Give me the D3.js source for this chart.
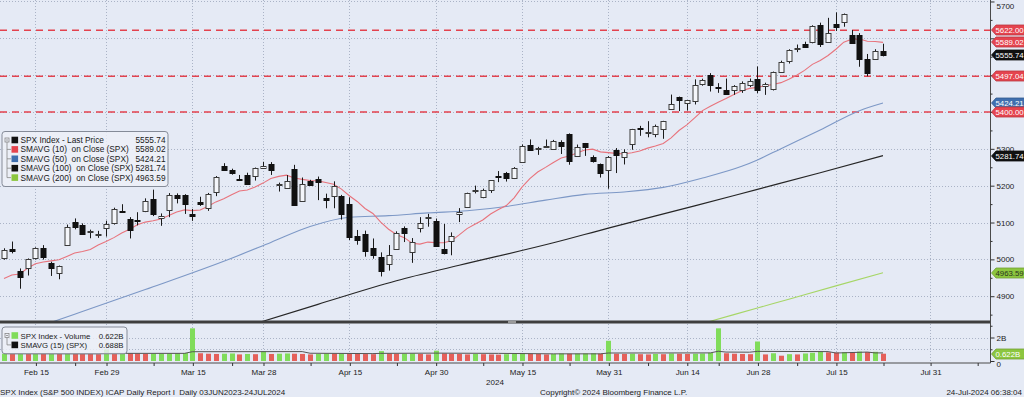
<!DOCTYPE html>
<html><head><meta charset="utf-8">
<script src="https://cdn.jsdelivr.net/npm/d3@7"></script>
<style>
html,body{margin:0;padding:0;background:#e5eaf5;overflow:hidden}
svg{display:block;font-family:"Liberation Sans",Arial,sans-serif}
text{white-space:pre}
</style></head>
<body><svg id="chart" width="1024" height="397"></svg>
<script>
// ---------------- DATA ----------------
const dates = [
 "02-09","02-12","02-13","02-14","02-15","02-16","02-20","02-21","02-22","02-23","02-26","02-27","02-28","02-29",
 "03-01","03-04","03-05","03-06","03-07","03-08","03-11","03-12","03-13","03-14","03-15","03-18","03-19","03-20","03-21","03-22","03-25","03-26","03-27","03-28",
 "04-01","04-02","04-03","04-04","04-05","04-08","04-09","04-10","04-11","04-12","04-15","04-16","04-17","04-18","04-19","04-22","04-23","04-24","04-25","04-26","04-29","04-30",
 "05-01","05-02","05-03","05-06","05-07","05-08","05-09","05-10","05-13","05-14","05-15","05-16","05-17","05-20","05-21","05-22","05-23","05-24","05-28","05-29","05-30","05-31",
 "06-03","06-04","06-05","06-06","06-07","06-10","06-11","06-12","06-13","06-14","06-17","06-18","06-20","06-21","06-24","06-25","06-26","06-27","06-28",
 "07-01","07-02","07-03","07-05","07-08","07-09","07-10","07-11","07-12","07-15","07-16","07-17","07-18","07-19","07-22","07-23"];
const opens = [
 5004.2,5026.8,4967.9,4976.4,5003.1,5031.1,4989.3,4963.0,5038.8,5100.9,5093.0,5074.6,5067.2,5085.4,
 5098.5,5131.0,5110.5,5108.0,5132.4,5164.5,5112.0,5134.3,5173.5,5175.1,5123.3,5154.8,5139.1,5181.7,5253.4,5242.5,5219.5,5228.9,5226.3,5248.0,
 5258.0,5204.3,5194.4,5244.1,5159.0,5211.4,5217.0,5167.9,5173.0,5171.5,5149.7,5064.6,5069.0,5031.5,5005.4,4987.3,5028.9,5084.7,5019.9,5084.9,5114.1,5103.8,
 5029.0,5049.3,5122.8,5142.4,5187.2,5169.0,5189.0,5225.5,5233.1,5221.1,5263.3,5310.1,5303.1,5305.4,5298.7,5319.3,5340.3,5281.5,5315.9,5278.7,5259.8,5243.2,
 5297.2,5278.2,5314.5,5357.8,5343.8,5341.2,5353.0,5409.1,5441.9,5424.1,5431.1,5476.2,5500.0,5466.8,5459.6,5460.7,5460.7,5473.6,5488.5,
 5471.1,5461.8,5507.4,5537.9,5572.8,5584.2,5591.3,5635.2,5590.8,5638.2,5644.1,5610.1,5608.6,5543.4,5544.6,5565.3];
const highs = [
 5030.1,5048.4,4975.3,5002.5,5032.7,5038.7,4993.6,4983.2,5094.4,5111.1,5097.7,5080.7,5077.4,5105.0,
 5140.3,5149.7,5114.6,5128.0,5165.6,5189.3,5124.7,5179.9,5179.1,5176.9,5136.9,5170.0,5180.3,5226.2,5261.1,5246.1,5229.1,5235.2,5249.3,5264.9,
 5264.0,5208.3,5228.8,5256.6,5222.2,5215.9,5224.8,5178.4,5211.8,5175.0,5168.4,5079.8,5078.0,5056.7,5019.0,5038.8,5076.1,5089.5,5057.8,5114.6,5123.5,5110.8,
 5096.1,5073.2,5139.1,5181.0,5200.2,5192.0,5215.3,5239.7,5237.3,5250.4,5311.8,5325.5,5305.4,5325.3,5324.3,5323.2,5341.9,5311.7,5315.9,5282.3,5260.2,5280.3,
 5302.1,5298.8,5354.2,5362.4,5375.1,5365.8,5376.0,5447.3,5441.9,5432.4,5488.5,5490.4,5505.5,5478.3,5490.7,5472.9,5483.1,5490.8,5523.6,
 5479.6,5509.7,5539.3,5570.3,5583.1,5590.8,5635.4,5642.5,5655.6,5670.4,5667.3,5622.5,5614.1,5557.5,5570.4,5585.3];
const lows = [
 4999.0,5016.3,4920.3,4956.2,4999.4,4999.5,4955.0,4946.0,5038.8,5081.5,5068.9,5057.3,5058.4,5061.9,
 5094.4,5127.2,5056.8,5092.2,5128.2,5117.5,5091.1,5114.5,5151.9,5123.3,5104.4,5145.1,5131.6,5171.6,5240.7,5229.9,5216.1,5203.4,5213.9,5245.8,
 5229.2,5184.1,5194.4,5146.1,5157.2,5203.6,5160.8,5138.7,5138.8,5107.9,5052.5,5039.8,5007.3,5001.9,4953.6,4969.4,5028.0,5047.0,4990.6,5073.1,5088.7,5035.3,
 5013.5,5011.1,5101.2,5142.4,5179.0,5165.9,5180.4,5209.7,5211.2,5218.0,5263.3,5296.2,5283.6,5302.4,5297.9,5286.0,5256.9,5278.4,5280.9,5262.7,5222.1,5191.7,
 5234.3,5257.6,5297.6,5335.4,5331.3,5331.5,5327.3,5409.1,5402.5,5403.8,5420.4,5471.3,5455.6,5452.0,5447.6,5446.6,5451.9,5467.5,5451.1,
 5446.5,5458.4,5507.4,5531.6,5562.5,5574.6,5586.4,5576.5,5590.4,5619.9,5631.4,5584.8,5522.8,5497.0,5542.9,5550.9];
const closes = [
 5026.6,5021.8,4953.2,5000.6,5029.7,5005.6,4975.5,4981.8,5087.0,5088.8,5069.5,5078.2,5069.8,5096.3,
 5137.1,5130.9,5078.7,5104.8,5157.4,5123.7,5117.9,5175.3,5165.3,5150.5,5117.1,5149.4,5178.5,5224.6,5241.5,5234.2,5218.2,5203.6,5248.5,5254.4,
 5243.8,5205.8,5211.5,5147.2,5204.3,5202.4,5209.9,5160.6,5199.1,5123.4,5061.8,5051.4,5022.2,5011.1,4967.2,5010.6,5070.6,5071.6,5048.4,5100.0,5116.2,5035.7,
 5018.4,5064.2,5127.8,5180.7,5187.7,5187.7,5214.1,5222.7,5221.4,5246.7,5308.2,5297.1,5303.3,5308.1,5321.4,5307.0,5267.8,5304.7,5306.0,5267.0,5235.5,5277.5,
 5283.4,5291.3,5354.0,5353.0,5347.0,5360.8,5375.3,5421.0,5433.7,5431.6,5473.2,5487.0,5473.2,5464.6,5447.9,5469.3,5477.9,5482.9,5460.5,
 5475.1,5509.0,5537.0,5567.2,5572.9,5577.0,5633.9,5584.5,5615.4,5631.2,5667.2,5588.3,5544.6,5505.0,5564.4,5555.74];
// SMAVG(10) on close, one value per day
const sma10 = [
 4948.0,4957.4,4960.2,4975.7,4988.0,4992.7,4996.0,4998.8,5008.0,5017.1,5021.4,5027.0,5038.7,5048.2,
 5059.0,5071.5,5081.8,5094.1,5101.2,5104.6,5109.5,5119.2,5128.7,5134.2,5132.2,5134.0,5144.0,5156.0,5164.4,5175.4,5185.5,5188.3,5196.6,5207.0,
 5219.7,5225.3,5228.6,5220.9,5217.2,5214.0,5213.1,5208.8,5203.9,5190.8,5172.6,5157.2,5138.2,5124.6,5100.9,5081.7,5067.8,5058.9,5043.8,5041.5,5046.9,5045.4,
 5045.0,5050.3,5066.4,5083.4,5095.1,5106.7,5123.3,5135.5,5146.0,5167.1,5196.1,5219.4,5237.0,5249.7,5263.1,5275.0,5280.4,5288.6,5297.0,5299.1,5291.8,5289.8,
 5287.8,5286.2,5289.4,5294.0,5301.9,5307.6,5314.5,5329.9,5349.7,5365.1,5384.1,5403.7,5415.6,5426.7,5436.8,5447.7,5457.9,5464.1,5466.8,
 5471.2,5474.7,5479.7,5489.1,5500.0,5512.9,5529.3,5540.0,5553.3,5570.3,5589.5,5597.5,5598.2,5592.0,5591.2,5589.02];
// Longer moving averages read at sample days
const sma50Dates = ["02-09","02-23","03-07","03-22","04-01","04-08","04-15","04-22","04-29","05-06","05-13","05-20","05-28","06-04","06-11","06-18","06-26","06-28","07-03","07-11","07-18","07-23"];
const sma50Vals  = [4785,4851,4918,5003,5046,5089.1,5114.3,5118.6,5126.1,5131.8,5143.5,5160.8,5176.5,5183.0,5195.4,5220.9,5252.5,5269.9,5300.5,5351.1,5403.5,5424.21];
const sma100Dates = ["03-25","03-28","04-09","04-23","05-03","05-21","05-31","06-17","06-28","07-11","07-23"];
const sma100Vals  = [4812,4832,4878,4942,4984,5045,5085,5145,5190,5235,5281.74];
const sma200Dates = ["06-13","06-20","06-28","07-05","07-15","07-23"];
const sma200Vals  = [4808,4832,4868,4892,4928,4963.59];
// Volume (billions)
const volumes = [
 0.62,0.60,0.66,0.60,0.64,0.62,0.65,0.60,0.68,0.64,0.62,0.60,0.58,0.98,
 0.66,0.68,0.66,0.64,0.62,0.63,0.64,0.65,0.66,0.68,2.78,0.66,0.62,0.60,0.62,0.64,0.56,0.60,0.58,0.84,
 0.60,0.62,0.64,0.62,0.60,0.56,0.60,0.64,0.62,0.64,0.62,0.60,0.59,0.58,0.84,0.64,0.62,0.63,0.64,0.60,0.56,0.88,
 0.64,0.62,0.60,0.56,0.60,0.58,0.56,0.54,0.58,0.62,0.66,0.62,0.60,0.56,0.60,0.64,0.62,0.63,0.64,0.66,0.62,1.72,
 0.62,0.60,0.62,0.58,0.56,0.60,0.58,0.64,0.62,0.60,0.62,0.64,0.70,2.78,0.66,0.62,0.60,0.58,1.66,
 0.56,0.66,0.45,0.58,0.56,0.64,0.70,0.82,0.74,0.72,0.76,0.74,0.80,0.76,0.78,0.622];
const volSmaDates = ["02-09","02-28","02-29","03-14","03-15","04-05","04-08","04-18","04-19","04-30","05-10","05-21","05-30","05-31","06-20","06-21","06-24","06-27","06-28","07-12","07-15","07-19","07-22","07-23"];
const volSmaVals  = [0.63,0.62,0.65,0.65,0.79,0.80,0.66,0.63,0.65,0.67,0.65,0.61,0.61,0.68,0.69,0.83,0.76,0.75,0.82,0.80,0.68,0.76,0.69,0.688];
// Levels and ticks
const levels = [5622.00, 5497.04, 5400.00];
const priceTicks = [4900,5000,5100,5200,5300,5400,5500,5600,5700];
const priceMinorTicks = [4850,4950,5050,5150,5250,5350,5450,5550,5650];
const volTicks = [0,2];
const volMinorTicks = [1,3];
const majorTickDates = ["02-15","02-29","03-15","03-28","04-15","04-30","05-15","05-31","06-14","06-28","07-15","07-31"];
const minorTickDates = ["02-23","03-08","03-22","04-08","04-23","05-08","05-23","06-07","06-21","07-08","07-23","08-08"];

// ---------------- HELPERS ----------------
const parseD = s => { const [m,d] = s.split("-").map(Number); return new Date(2024, m-1, d); };
function idxOf(s){
  const i = dates.indexOf(s);
  if (i >= 0) return i;
  let d = parseD(dates[dates.length-1]), t = parseD(s), n = dates.length-1;
  while (d < t){ d = d3.timeDay.offset(d,1); const w = d.getDay(); if (w>0 && w<6) n++; }
  return n;
}
const fmtLab = d3.timeFormat("%b %-d");

// ---------------- LAYOUT ----------------
const svg = d3.select("#chart");
const BG = "#e5eaf5";
const plotR = 990, mainBot = 321, volTopY = 324, volBotY = 362.5;
const x = d3.scaleLinear().domain([0, dates.length-1]).range([4, 883]);
const y = d3.scaleLinear().domain([4830, 5704]).range([322, 0]);
const yv = d3.scaleLinear().domain([0, 2]).range([361, 337.5]);
const px = i => Math.round(x(i)) + 0.5;

svg.append("rect").attr("width",1024).attr("height",397).attr("fill",BG);

const defs = svg.append("defs");
defs.append("clipPath").attr("id","clipMain").append("rect").attr("x",0).attr("y",0).attr("width",plotR).attr("height",mainBot);
defs.append("clipPath").attr("id","clipVol").append("rect").attr("x",0).attr("y",volTopY).attr("width",plotR).attr("height",volBotY-volTopY);

// grid
const grid = svg.append("g");
grid.selectAll("line.h").data(priceTicks).join("line")
  .attr("x1",0).attr("x2",plotR).attr("y1",d=>Math.round(y(d))+0.5).attr("y2",d=>Math.round(y(d))+0.5)
  .attr("stroke","#aab3c6").attr("stroke-dasharray","1,2");
grid.selectAll("line.v").data(majorTickDates).join("line")
  .attr("x1",d=>px(idxOf(d))).attr("x2",d=>px(idxOf(d))).attr("y1",0).attr("y2",volBotY)
  .attr("stroke","#aab3c6").attr("stroke-dasharray","1,2");
grid.selectAll("line.vh").data([1,2]).join("line")
  .attr("x1",0).attr("x2",plotR).attr("y1",d=>Math.round(yv(d))+0.5).attr("y2",d=>Math.round(yv(d))+0.5)
  .attr("stroke","#aab3c6").attr("stroke-dasharray","1,2");

// main panel
const gm = svg.append("g").attr("clip-path","url(#clipMain)");
gm.selectAll("line.lvl").data(levels).join("line")
  .attr("x1",0).attr("x2",plotR).attr("y1",d=>y(d)).attr("y2",d=>y(d))
  .attr("stroke","#e3424e").attr("stroke-width",1.6).attr("stroke-dasharray","7,5");

const lineIdx = (vals) => d3.line().x((d,i)=>x(i)).y(d=>y(d))(vals);
const lineSampled = (ds, vs) => d3.line().curve(d3.curveMonotoneX).x(d=>x(idxOf(d[0]))).y(d=>y(d[1]))(ds.map((d,i)=>[d,vs[i]]));

gm.append("path").attr("d", lineSampled(sma200Dates, sma200Vals)).attr("fill","none").attr("stroke","#a6d666").attr("stroke-width",1.1);
gm.append("path").attr("d", lineSampled(sma100Dates, sma100Vals)).attr("fill","none").attr("stroke","#262626").attr("stroke-width",1.2);
gm.append("path").attr("d", lineSampled(sma50Dates, sma50Vals)).attr("fill","none").attr("stroke","#7d98c6").attr("stroke-width",1.1);
gm.append("path").attr("d", lineIdx(sma10)).attr("fill","none").attr("stroke","#e8737c").attr("stroke-width",1.1);

// candles
const candles = gm.append("g");
dates.forEach((d,i)=>{
  const cx = px(i);
  candles.append("line").attr("x1",cx).attr("x2",cx).attr("y1",y(highs[i])).attr("y2",y(lows[i]))
    .attr("stroke","#1a1a1a").attr("stroke-width",1);
  const up = closes[i] >= opens[i];
  const top = y(Math.max(opens[i],closes[i])), bot = y(Math.min(opens[i],closes[i]));
  const t = Math.round(top)+0.5, h = Math.max(1, Math.round(bot)-Math.round(top));
  candles.append("rect").attr("x",cx-2.5).attr("width",5).attr("y",t).attr("height",h)
    .attr("fill", up ? "#f4f6fa" : "#111").attr("stroke", up ? "#3a3a3a" : "#111").attr("stroke-width",1);
});

// separator
svg.append("rect").attr("x",0).attr("y",320.5).attr("width",plotR).attr("height",3).attr("fill","#3e3e3e");
svg.append("rect").attr("x",508).attr("y",321).attr("width",8).attr("height",2).attr("fill","#9a9a9a");

// volume panel
const gv = svg.append("g").attr("clip-path","url(#clipVol)");
gv.selectAll("rect.vb").data(volumes).join("rect")
  .attr("x",(d,i)=>Math.round(x(i))-2).attr("width",5)
  .attr("y",d=>yv(d)).attr("height",d=>yv(0)-yv(d))
  .attr("fill",(d,i)=> (i>0 && d < volumes[i-1]) ? "#e5605a" : "#80dc5a");
gv.append("path").attr("d", d3.line().x(d=>x(idxOf(d[0]))).y(d=>yv(d[1]))(volSmaDates.map((d,i)=>[d,volSmaVals[i]])))
  .attr("fill","none").attr("stroke","#555").attr("stroke-width",1);

// frame lines
svg.append("line").attr("x1",plotR+0.5).attr("x2",plotR+0.5).attr("y1",0).attr("y2",volBotY+0.5).attr("stroke","#4a4a4a");
svg.append("line").attr("x1",0).attr("x2",plotR+0.5).attr("y1",volBotY+0.5).attr("y2",volBotY+0.5).attr("stroke","#4a4a4a");

// value tags (needed for hiding covered axis labels)
const red="#e5444f", blue="#3f6faf", green="#8cc63f";
const last = a => a[a.length-1];
const f2 = d3.format(".2f");
const tags = [
  {v:levels[0], c:red, t:"#fff"},
  {v:last(sma10), c:red, t:"#fff"},
  {v:last(closes), c:"#111", t:"#fff"},
  {v:levels[1], c:red, t:"#fff"},
  {v:last(sma50Vals), c:blue, t:"#fff"},
  {v:levels[2], c:red, t:"#fff"},
  {v:last(sma100Vals), c:"#111", t:"#fff"},
  {v:last(sma200Vals), c:green, t:"#2a3320"}
];
const coveredByTag = v => tags.some(t => Math.abs(y(t.v) - y(v)) < 5);

// right axes
const axText = g => g.selectAll("text").attr("fill","#222").style("font-size","8px");
const ra = svg.append("g").attr("transform",`translate(${plotR+0.5},0)`)
  .call(d3.axisRight(y).tickValues(priceTicks).tickSize(4).tickPadding(2)
    .tickFormat(d => coveredByTag(d) ? "" : d3.format("d")(d)));
ra.select(".domain").remove(); ra.selectAll("line").attr("stroke","#333"); axText(ra);
ra.selectAll("text").filter(d => y(d) < 5).attr("y", 4);
const ram = svg.append("g").attr("transform",`translate(${plotR+0.5},0)`)
  .call(d3.axisRight(y).tickValues(priceMinorTicks).tickSize(2).tickFormat(""));
ram.select(".domain").remove(); ram.selectAll("line").attr("stroke","#333");
const va = svg.append("g").attr("transform",`translate(${plotR+0.5},0)`)
  .call(d3.axisRight(yv).tickValues(volTicks).tickSize(4).tickPadding(2).tickFormat(d=> d===0 ? "0" : d+"B"));
va.select(".domain").remove(); va.selectAll("line").attr("stroke","#333"); axText(va);
va.selectAll("text").filter(d => d===0).attr("y", 3);
const vam = svg.append("g").attr("transform",`translate(${plotR+0.5},0)`)
  .call(d3.axisRight(yv).tickValues(volMinorTicks).tickSize(2).tickFormat(""));
vam.select(".domain").remove(); vam.selectAll("line").attr("stroke","#333");

// bottom axis
const xa = svg.append("g").attr("transform",`translate(0.5,${volBotY+0.5})`)
  .call(d3.axisBottom(x).tickValues(majorTickDates.map(idxOf)).tickSize(3).tickPadding(3)
    .tickFormat((d,i)=>fmtLab(parseD(majorTickDates[i]))));
xa.select(".domain").remove(); xa.selectAll("line").attr("stroke","#333"); axText(xa);
const xam = svg.append("g").attr("transform",`translate(0.5,${volBotY+0.5})`)
  .call(d3.axisBottom(x).tickValues(minorTickDates.map(idxOf)).tickSize(3).tickFormat(""));
xam.select(".domain").remove(); xam.selectAll("line").attr("stroke","#333");
svg.append("text").attr("x",plotR/2).attr("y",385).attr("text-anchor","middle").attr("fill","#222").style("font-size","8px").text("2024");

// legends
function legend(gx, gy, w, rows, valX, fs){
  const g = svg.append("g").attr("transform",`translate(${gx},${gy})`);
  const hgt = rows.length*9.4 + 8;
  g.append("rect").attr("x",0.5).attr("y",0.5).attr("width",w).attr("height",hgt).attr("rx",3)
    .attr("fill","#edf0f8").attr("fill-opacity",0.82).attr("stroke","#858b98");
  g.append("rect").attr("x",3.5).attr("y",7).attr("width",4).attr("height",4).attr("fill","none").attr("stroke","#888").attr("stroke-width",0.8);
  g.append("line").attr("x1",4.5).attr("x2",6.5).attr("y1",9).attr("y2",9).attr("stroke","#888").attr("stroke-width",0.8);
  g.append("line").attr("x1",5.5).attr("x2",5.5).attr("y1",11).attr("y2",9+ (rows.length-1)*9.4).attr("stroke","#888").attr("stroke-width",0.8);
  rows.forEach((r,i)=>{
    const cy = 9 + i*9.4;
    if (i>0) g.append("line").attr("x1",5.5).attr("x2",9.5).attr("y1",cy).attr("y2",cy).attr("stroke","#888").attr("stroke-width",0.8);
    g.append("rect").attr("x",10).attr("y",cy-3.3).attr("width",6.6).attr("height",6.6).attr("fill",r.color);
    g.append("text").attr("x",19).attr("y",cy+3).attr("fill","#1a1a1a").style("font-size",fs+"px").text(r.name);
    g.append("text").attr("x",valX).attr("y",cy+3).attr("text-anchor","end").attr("fill","#1a1a1a").style("font-size",fs+"px").text(r.value);
  });
}
legend(1.5,131,166,[
  {name:"SPX Index - Last Price", value:f2(last(closes)), color:"#111"},
  {name:"SMAVG (10)  on Close (SPX)", value:f2(last(sma10)), color:red},
  {name:"SMAVG (50)  on Close (SPX)", value:f2(last(sma50Vals)), color:blue},
  {name:"SMAVG (100)  on Close (SPX)", value:f2(last(sma100Vals)), color:"#111"},
  {name:"SMAVG (200)  on Close (SPX)", value:f2(last(sma200Vals)), color:green}
], 164, 8.3);
legend(1.5,326.5,125,[
  {name:"SPX Index - Volume", value:d3.format(".3f")(last(volumes))+"B", color:"#80dc5a"},
  {name:"SMAVG (15) (SPX)", value:d3.format(".3f")(last(volSmaVals))+"B", color:"#111"}
], 122, 7.8);

// right-side value tags
function tag(yc, label, fill, tcol){
  const g = svg.append("g");
  const t = Math.round(yc);
  g.append("path").attr("d",`M${plotR+1.5},${t} L${plotR+6},${t-5} L1026,${t-5} L1026,${t+5} L${plotR+6},${t+5} Z`)
    .attr("fill",fill).attr("stroke",d3.color(fill).darker(0.6)).attr("stroke-width",0.8);
  g.append("text").attr("x",plotR+5.5).attr("y",t+3).attr("fill",tcol).style("font-size","7.8px").text(label);
}
tags.forEach(d=>tag(y(d.v), f2(d.v), d.c, d.t));
tag(yv(last(volumes)), d3.format(".3f")(last(volumes))+"B", green, "#fff");

// footer
const foot = svg.append("g").attr("fill","#222").style("font-size","8px");
foot.append("text").attr("x",0).attr("y",395).text("SPX Index (S&P 500 INDEX) ICAP Daily Report I  Daily 03JUN2023-24JUL2024");
foot.append("text").attr("x",540).attr("y",395).text("Copyright\u00A9 2024 Bloomberg Finance L.P.");
foot.append("text").attr("x",1022).attr("y",395).attr("text-anchor","end").text("24-Jul-2024 06:38:04");
</script></body></html>
